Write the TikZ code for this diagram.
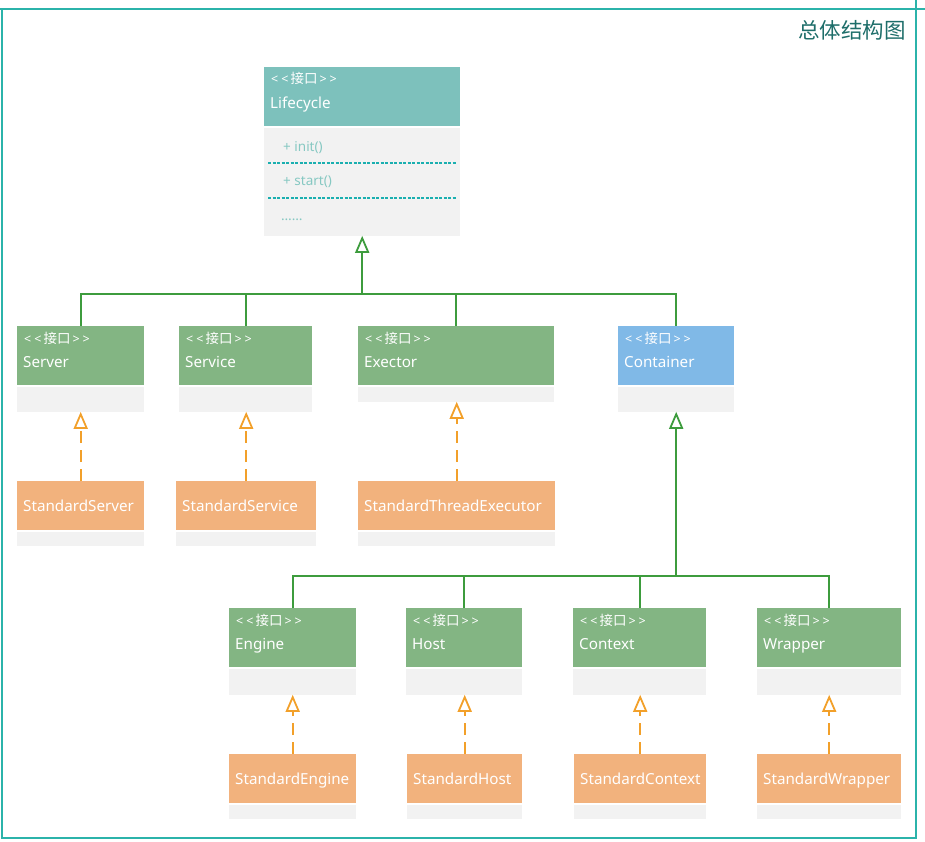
\documentclass[tikz,border=0pt]{standalone}
\usepackage{fontspec}
\setmainfont{Noto Sans}
\newfontfamily\cjk{Noto Sans CJK SC}
\usetikzlibrary{arrows.meta,calc}
\definecolor{tealH}{HTML}{7DC1BC}
\definecolor{greenH}{HTML}{83B583}
\definecolor{blueH}{HTML}{80B9E7}
\definecolor{orangeH}{HTML}{F2B27D}
\definecolor{bodyC}{HTML}{F2F2F2}
\definecolor{gLine}{HTML}{3D9C3D}
\definecolor{oLine}{HTML}{F2A02A}
\definecolor{frameC}{HTML}{2BB3AA}
\definecolor{titleC}{HTML}{1E6E6A}
\definecolor{memC}{HTML}{86C8C2}
\definecolor{sepC}{HTML}{1AAFB0}
\newcommand\stereotxt{<\kern3pt<\kern2pt{\cjk\fontsize{13.5}{14}\selectfont 接口}\kern2pt>\kern3pt>}
\tikzset{
  hdr/.style={rectangle, inner sep=0pt, anchor=north west, draw=none},
  bdy/.style={rectangle, inner sep=0pt, anchor=north west, draw=none, fill=bodyC},
  stereo/.style={anchor=base west, inner sep=0pt, text=white, font=\fontsize{12.5}{13}\selectfont},
  cname/.style={anchor=base west, inner sep=0pt, text=white, font=\fontsize{15.2}{17}\selectfont},
  member/.style={anchor=base west, inner sep=0pt, text=memC, font=\fontsize{13.5}{14}\selectfont},
  gline/.style={draw=gLine, line width=1.7pt},
  trunk/.style={draw=gLine, line width=2.4pt},
  oline/.style={draw=oLine, line width=1.8pt, dash pattern=on 12pt off 7pt},
  otip/.style={-{Triangle[open, length=17pt, width=14pt, line width=1.8pt]}},
  sepline/.style={draw=sepC, line width=1.2pt, dash pattern=on 3pt off 1.5pt},
}
\newcommand\umlIface[8]{% name, x, y, w, header h, body h, fill, title
  \node[hdr, fill=#7, minimum width=#4pt, minimum height=#5pt] (#1H) at (#2,#3) {};
  \node[bdy, minimum width=#4pt, minimum height=#6pt] (#1B) at ($(#1H.south west)+(0,1)$) {};
  \node[stereo] at ($(#1H.north west)+(7,17.5)$) {\stereotxt};
  \node[cname] at ($(#1H.north west)+(6,41.5)$) {#8};
}
\newcommand\umlImpl[6]{% name, x, y, w, body h, title
  \node[hdr, fill=orangeH, minimum width=#4pt, minimum height=49pt] (#1H) at (#2,#3) {};
  \node[bdy, minimum width=#4pt, minimum height=#5pt] (#1B) at ($(#1H.south west)+(0,1)$) {};
  \node[cname] at ($(#1H.north west)+(6,30)$) {#6};
}
\begin{document}
\begin{tikzpicture}[x=1pt,y=-1pt]
\useasboundingbox (0,0) rectangle (925,841);
% frame
\draw[frameC, line width=1.4pt] (2,9) rectangle (916,838);
\draw[frameC, line width=1.4pt] (0,9) -- (925,9);
\draw[frameC, line width=2.2pt] (778,9) -- (925,9);
\draw[frameC, line width=1.4pt] (916,0) -- (916,9);
\node[anchor=east, inner sep=0pt, text=titleC, font=\cjk\fontsize{21.5}{22}\selectfont] (title) at (906,30) {总体结构图};
% Lifecycle
\node[hdr, fill=tealH, minimum width=196pt, minimum height=59pt] (lifeH) at (264,67) {};
\node[bdy, minimum width=196pt, minimum height=108pt] (lifeB) at ($(lifeH.south west)+(0,1)$) {};
\node[stereo] at ($(lifeH.north west)+(7,16)$) {\stereotxt};
\node[cname] at ($(lifeH.north west)+(6,41)$) {Lifecycle};
\node[member] at (283,151) {+ init()};
\node[member] at (283,185) {+ start()};
\node[member] at (281,220) {……};
\coordinate (s1a) at (268,163); \coordinate (s1b) at (456,163);
\coordinate (s2a) at (268,198); \coordinate (s2b) at (456,198);
\draw[sepline] (s1a) -- (s1b);
\draw[sepline] (s2a) -- (s2b);
% row 2
\umlIface{serv}{17}{326}{127}{59}{25}{greenH}{Server}
\umlIface{srvc}{179}{326}{133}{59}{25}{greenH}{Service}
\umlIface{exec}{358}{326}{196}{59}{15}{greenH}{Exector}
\umlIface{cont}{618}{326}{116}{59}{25}{blueH}{Container}
% row 3
\umlImpl{sServ}{17}{481}{127}{14}{StandardServer}
\umlImpl{sSrvc}{176}{481}{140}{14}{StandardService}
\umlImpl{sExec}{358}{481}{197}{14}{StandardThreadExecutor}
% row 4
\umlIface{eng}{229}{608}{127}{59}{26}{greenH}{Engine}
\umlIface{host}{406}{608}{116}{59}{26}{greenH}{Host}
\umlIface{ctx}{573}{608}{133}{59}{26}{greenH}{Context}
\umlIface{wrap}{757}{608}{144}{59}{26}{greenH}{Wrapper}
% row 5
\umlImpl{sEng}{229}{754}{127}{14}{StandardEngine}
\umlImpl{sHost}{407}{754}{115}{14}{StandardHost}
\umlImpl{sCtx}{574}{754}{132}{14}{StandardContext}
\umlImpl{sWrap}{757}{754}{144}{14}{StandardWrapper}
% generalization tree 1
\coordinate (j1) at ($(lifeB.south)+(0,58)$);
\draw[gline] (servH.north) |- (j1) -| (contH.north);
\draw[gline] (srvcH.north) -- (srvcH.north |- j1);
\draw[gline] (execH.north) -- (execH.north |- j1);
\draw[trunk, otip] (j1) -- (lifeB.south);
% generalization tree 2
\coordinate (j2) at ($(contB.south)+(0,164)$);
\draw[gline] (engH.north) |- (j2) -| (wrapH.north);
\draw[gline] (hostH.north) -- (hostH.north |- j2);
\draw[gline] (ctxH.north) -- (ctxH.north |- j2);
\draw[trunk, otip] (j2) -- (contB.south);
% realizations
\draw[oline, otip] (sServH.north) -- (sServH.north |- servB.south);
\draw[oline, otip] (sSrvcH.north) -- (sSrvcH.north |- srvcB.south);
\draw[oline, otip] (sExecH.north) -- (sExecH.north |- execB.south);
\draw[oline, otip] (sEngH.north) -- (sEngH.north |- engB.south);
\draw[oline, otip] (sHostH.north) -- (sHostH.north |- hostB.south);
\draw[oline, otip] (sCtxH.north) -- (sCtxH.north |- ctxB.south);
\draw[oline, otip] (sWrapH.north) -- (sWrapH.north |- wrapB.south);
\end{tikzpicture}
\end{document}
